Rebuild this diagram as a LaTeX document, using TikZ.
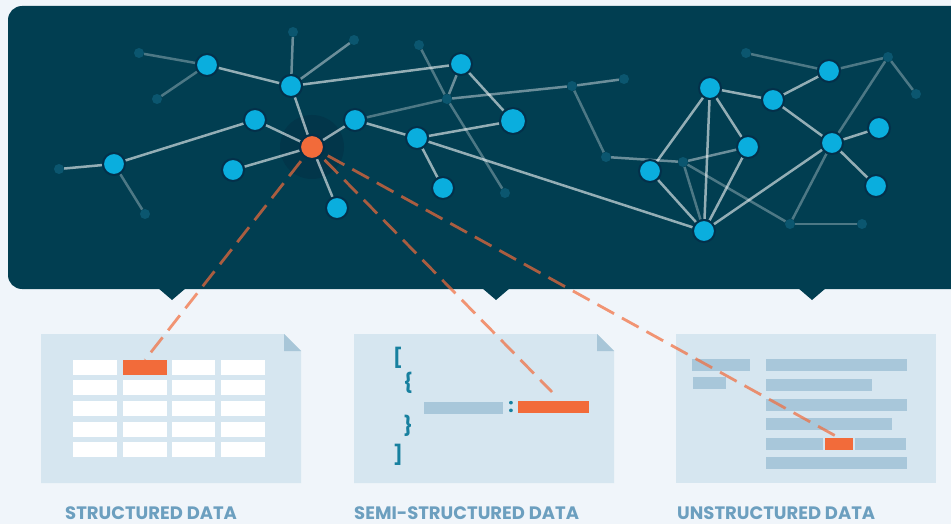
\documentclass[tikz,border=0pt]{standalone}
\usepackage{fontspec}
\setmainfont{Poppins}
\usetikzlibrary{calc}

\definecolor{pagebg}{HTML}{F0F5FA}
\definecolor{panelc}{HTML}{013E51}
\definecolor{haloc}{HTML}{02364A}
\definecolor{nodeblue}{HTML}{0AAEDE}
\definecolor{ringc}{HTML}{03304A}
\definecolor{dotc}{HTML}{0B566F}
\definecolor{hotorange}{HTML}{F26B3A}
\definecolor{cardc}{HTML}{D6E6F0}
\definecolor{foldc}{HTML}{A8C6D8}
\definecolor{barc}{HTML}{A8C7DA}
\definecolor{bracec}{HTML}{17809F}
\definecolor{labelc}{HTML}{6C9FBF}

\pgfdeclarelayer{back}
\pgfdeclarelayer{edges}
\pgfsetlayers{back,edges,main}

\tikzset{
  hub/.style={circle, fill=nodeblue, draw=ringc, line width=2pt, minimum size=22pt, inner sep=0pt},
  bighub/.style={hub, minimum size=26pt},
  hot/.style={circle, fill=hotorange, draw=ringc, line width=2pt, minimum size=24pt, inner sep=0pt},
  dot/.style={circle, fill=dotc, minimum size=10pt, inner sep=0pt},
  strong/.style={draw=white, draw opacity=0.58, line width=2.5pt},
  mid/.style={draw=white, draw opacity=0.42, line width=2.5pt},
  soft/.style={draw=white, draw opacity=0.3, line width=2.5pt},
  trace/.style={draw=hotorange, draw opacity=0.7, line width=2.8pt, dash pattern=on 19pt off 9pt, shorten <=5pt},
  hotcell/.style={rectangle, fill=hotorange, inner sep=0pt},
  brace/.style={text=bracec, font=\bfseries\fontsize{19}{19}\selectfont, inner sep=0pt},
  caption/.style={text=labelc, font=\bfseries\fontsize{18}{18}\selectfont, inner sep=0pt, text depth=0pt, anchor=base west}
}

\begin{document}
\begin{tikzpicture}[x=1pt, y=-1pt]
\useasboundingbox (0,0) rectangle (951,524);

\begin{pgfonlayer}{back}
  \fill[pagebg] (0,0) rectangle (951,524);
  % dark network panel with its three pointers
  \fill[panelc, rounded corners=14pt] (8,6) rectangle (980,289);
  \fill[panelc] (158,288) -- (186,288) -- (172,300) -- cycle;
  \fill[panelc] (482,288) -- (510,288) -- (496,300) -- cycle;
  \fill[panelc] (798,288) -- (826,288) -- (812,300) -- cycle;
  % glow behind the selected node
  \fill[haloc] (312,147) circle (32pt);
\end{pgfonlayer}

% network nodes
\node[hub] (a) at (207,65) {};
\node[hub] (b) at (291,86) {};
\node[hub] (c) at (461,64) {};
\node[hub] (d) at (255,120) {};
\node[hub] (e) at (355,120) {};
\node[hub] (f) at (417,138) {};
\node[bighub] (g) at (513,121) {};
\node[hub] (h) at (114,164) {};
\node[hub] (i) at (233,170) {};
\node[hub] (j) at (337,208) {};
\node[hub] (k) at (443,188) {};
\node[hub] (l) at (710,88) {};
\node[hub] (m) at (773,100) {};
\node[hub] (n) at (829,71) {};
\node[hub] (o) at (748,147) {};
\node[hub] (p) at (650,171) {};
\node[hub] (q) at (832,143) {};
\node[hub] (r) at (879,128) {};
\node[hub] (s) at (876,186) {};
\node[hub] (t) at (704,231) {};
\node[hot] (x) at (312,147) {};

\node[dot] (d1) at (139,53) {};
\node[dot] (d2) at (157,99) {};
\node[dot] (d3) at (293,32) {};
\node[dot] (d4) at (354,40) {};
\node[dot] (d5) at (419,45) {};
\node[dot] (d6) at (447,99) {};
\node[dot] (d7) at (59,169) {};
\node[dot] (d8) at (145,214) {};
\node[dot] (d9) at (572,86) {};
\node[dot] (d10) at (624,79) {};
\node[dot] (d11) at (505,193) {};
\node[dot] (d12) at (606,157) {};
\node[dot] (d13) at (683,162) {};
\node[dot] (d14) at (746,53) {};
\node[dot] (d15) at (888,57) {};
\node[dot] (d16) at (916,94) {};
\node[dot] (d17) at (790,224) {};
\node[dot] (d18) at (862,224) {};

\begin{pgfonlayer}{edges}
  \foreach \u/\v in {a/b, b/c, b/x, d/x, d/h, i/x, x/e, x/j, e/f, f/g, f/t, f/k, c/g,
                     p/l, p/t, l/t, l/o, l/m, o/t, m/n, m/q, q/r, q/s, q/t, h/d7}
    \draw[strong] (\u) -- (\v);
  \foreach \u/\v in {b/d3, b/d4, c/d6, d6/d9, d9/d10, d12/d13, o/d13}
    \draw[mid] (\u) -- (\v);
  \foreach \u/\v in {a/d1, a/d2, h/d8, e/d6, d5/d6, d6/d11, d9/d12, d13/t, d13/d17,
                     n/d14, n/d15, d15/d16, d15/q, q/d17, d17/d18}
    \draw[soft] (\u) -- (\v);
\end{pgfonlayer}

% structured data card: a table
\fill[cardc] (41,334) -- (284,334) -- (301,351) -- (301,483) -- (41,483) -- cycle;
\fill[foldc] (284,334) -- (284,351) -- (301,351) -- cycle;
\foreach \y in {360,380,401,421.5,442}
  \foreach \xa/\xb in {73/117, 123/167, 172/215, 221/265}
    \fill[white] (\xa,\y) rectangle (\xb,\y+15);
\node[hotcell, minimum width=44pt, minimum height=15pt] (cella) at (145,367.5) {};

% semi-structured data card: a JSON record
\fill[cardc] (354,334) -- (597,334) -- (614,351) -- (614,483) -- (354,483) -- cycle;
\fill[foldc] (597,334) -- (597,351) -- (614,351) -- cycle;
\node[brace] (lbrack) at (398,358) {[};
\node[brace] (lbrace) at (408,383) {\{};
\node[brace] (rbrace) at (408,426) {\}};
\node[brace] (rbrack) at (398,455) {]};
\fill[barc] (424,402) rectangle (503,414);
\node[brace] (colon) at (511,407.5) {:};
\node[hotcell, minimum width=71pt, minimum height=12pt] (cellb) at (553,407) {};
\coordinate (semitip) at (552,392);

% unstructured data card: lines of text
\fill[cardc] (676,334) rectangle (936,483);
\fill[barc] (692,359) rectangle (750,371);
\fill[barc] (693,377) rectangle (726,389);
\fill[barc] (766,359) rectangle (907,371);
\fill[barc] (766,379) rectangle (872,391);
\fill[barc] (766,399) rectangle (907,411);
\fill[barc] (766,418) rectangle (892,430);
\fill[barc] (766,438) rectangle (823,450);
\node[hotcell, minimum width=28pt, minimum height=12pt] (cellc) at (839,444) {};
\fill[barc] (855,438) rectangle (906,450);
\fill[barc] (766,457) rectangle (907,469);

% links from the selected node into each kind of data
\draw[trace] (x) -- (cella.north);
\draw[trace] (x) -- (semitip);
\draw[trace] (x) -- (cellc.north);

% captions
\node[caption] (cap1) at (65,519) {STRUCTURED DATA};
\node[caption] (cap2) at (354,519) {SEMI-STRUCTURED DATA};
\node[caption] (cap3) at (677,519) {UNSTRUCTURED DATA};
\end{tikzpicture}
\end{document}
